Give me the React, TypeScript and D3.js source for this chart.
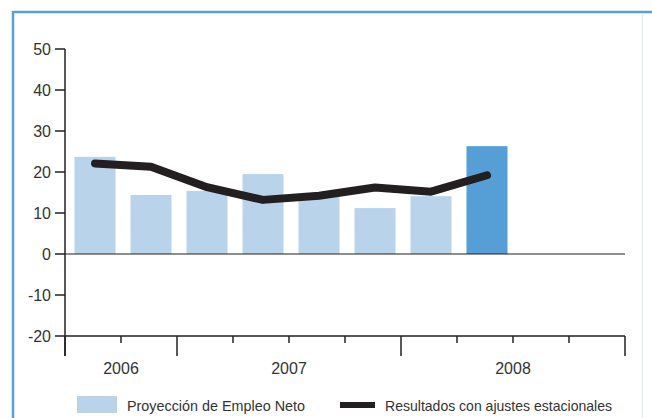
import React, { useEffect, useRef } from 'react';
import * as d3 from 'd3';

const quarters = ['2006-T3', '2006-T4', '2007-T1', '2007-T2', '2007-T3', '2007-T4', '2008-T1', '2008-T2', '2008-T3', '2008-T4'];
const neto = [23.7, 14.4, 15.4, 19.5, 14.0, 11.2, 14.1, 26.3];
const ajustados = [22.1, 21.3, 16.3, 13.2, 14.2, 16.2, 15.2, 19.2];
const years = ['2006', '2007', '2008'];
const yearSpans = [[0, 2], [2, 6], [6, 10]];
const yTicks = [50, 40, 30, 20, 10, 0, -10, -20];

const W = 652;
const H = 418;

const App: React.FC = () => {
  const svgRef = useRef<SVGSVGElement>(null);

  useEffect(() => {
    if (!svgRef.current) return;
    const svg = d3.select(svgRef.current);
    svg.selectAll('*').remove();

    const font = '"Liberation Sans", Arial, sans-serif';
    const ink = '#231f20';

    const x = d3.scaleBand<string>().domain(quarters).range([65, 625]);
    const y = d3.scaleLinear().domain([-20, 50]).range([336, 49]);
    const step = x.step();
    const barW = 41;
    const cx = (i: number) => (x(quarters[i]) as number) + step / 2 + 2;

    // frame
    svg.append('line').attr('x1', 13).attr('x2', W).attr('y1', 12).attr('y2', 12)
      .attr('stroke', '#5b9fd4').attr('stroke-width', 2.5);
    svg.append('line').attr('x1', 13).attr('x2', 13).attr('y1', 11).attr('y2', H)
      .attr('stroke', '#5b9fd4').attr('stroke-width', 2.5);
    svg.append('line').attr('x1', 642.5).attr('x2', 642.5).attr('y1', 13).attr('y2', H)
      .attr('stroke', '#dfeaf5').attr('stroke-width', 1);

    // bars
    svg.append('g').selectAll('rect').data(neto).join('rect')
      .attr('x', (_, i) => cx(i) - barW / 2)
      .attr('width', barW)
      .attr('y', d => y(d))
      .attr('height', d => y(0) - y(d))
      .attr('fill', (_, i) => i === neto.length - 1 ? '#559fd6' : '#b9d3eb');

    // zero line
    svg.append('line').attr('x1', 65).attr('x2', 625).attr('y1', y(0)).attr('y2', y(0))
      .attr('stroke', ink).attr('stroke-width', 1.2);

    // y axis
    svg.append('line').attr('x1', 65).attr('x2', 65).attr('y1', y(50)).attr('y2', 356)
      .attr('stroke', ink).attr('stroke-width', 1.5);
    const yt = svg.append('g').selectAll('g').data(yTicks).join('g')
      .attr('transform', d => `translate(0,${y(d)})`);
    yt.append('line').attr('x1', 55).attr('x2', 65).attr('stroke', ink).attr('stroke-width', 1.5);
    yt.append('text').attr('x', 51).attr('dy', '0.35em').attr('text-anchor', 'end')
      .attr('font-family', font).attr('font-size', 16).attr('fill', '#333')
      .text(d => String(d));

    // x axis at the bottom
    const xb = y(-20);
    svg.append('line').attr('x1', 65).attr('x2', 625).attr('y1', xb).attr('y2', xb)
      .attr('stroke', ink).attr('stroke-width', 1.5);
    const edges = d3.range(quarters.length + 1).map(i => 65 + i * step);
    const majors = new Set([0, 2, 6, 10]);
    svg.append('g').selectAll('line').data(edges).join('line')
      .attr('x1', d => d).attr('x2', d => d)
      .attr('y1', xb)
      .attr('y2', (_, i) => majors.has(i) ? 356 : 343)
      .attr('stroke', ink).attr('stroke-width', 1.5);
    svg.append('g').selectAll('text').data(years).join('text')
      .attr('x', (_, i) => 65 + ((yearSpans[i][0] + yearSpans[i][1]) / 2) * step)
      .attr('y', 374)
      .attr('text-anchor', 'middle')
      .attr('font-family', font).attr('font-size', 16).attr('fill', '#333')
      .text(d => d);

    // line
    const line = d3.line<number>().x((_, i) => cx(i)).y(d => y(d));
    svg.append('path').attr('d', line(ajustados) as string)
      .attr('fill', 'none').attr('stroke', ink).attr('stroke-width', 8)
      .attr('stroke-linecap', 'round').attr('stroke-linejoin', 'round');

    // legend
    svg.append('rect').attr('x', 77).attr('y', 396).attr('width', 40).attr('height', 17).attr('fill', '#b9d3eb');
    svg.append('text').attr('x', 127).attr('y', 411)
      .attr('font-family', font).attr('font-size', 15).attr('fill', '#333')
      .attr('textLength', 178).attr('lengthAdjust', 'spacingAndGlyphs')
      .text('Proyección de Empleo Neto');
    svg.append('line').attr('x1', 340).attr('x2', 375).attr('y1', 405).attr('y2', 405)
      .attr('stroke', ink).attr('stroke-width', 6);
    svg.append('text').attr('x', 385).attr('y', 411)
      .attr('font-family', font).attr('font-size', 15).attr('fill', '#333')
      .attr('textLength', 227).attr('lengthAdjust', 'spacingAndGlyphs')
      .text('Resultados con ajustes estacionales');
  }, []);

  return (
    <svg ref={svgRef} width={W} height={H}
      style={{ position: 'absolute', left: 0, top: 0, background: '#fff' }} />
  );
};

export default App;
